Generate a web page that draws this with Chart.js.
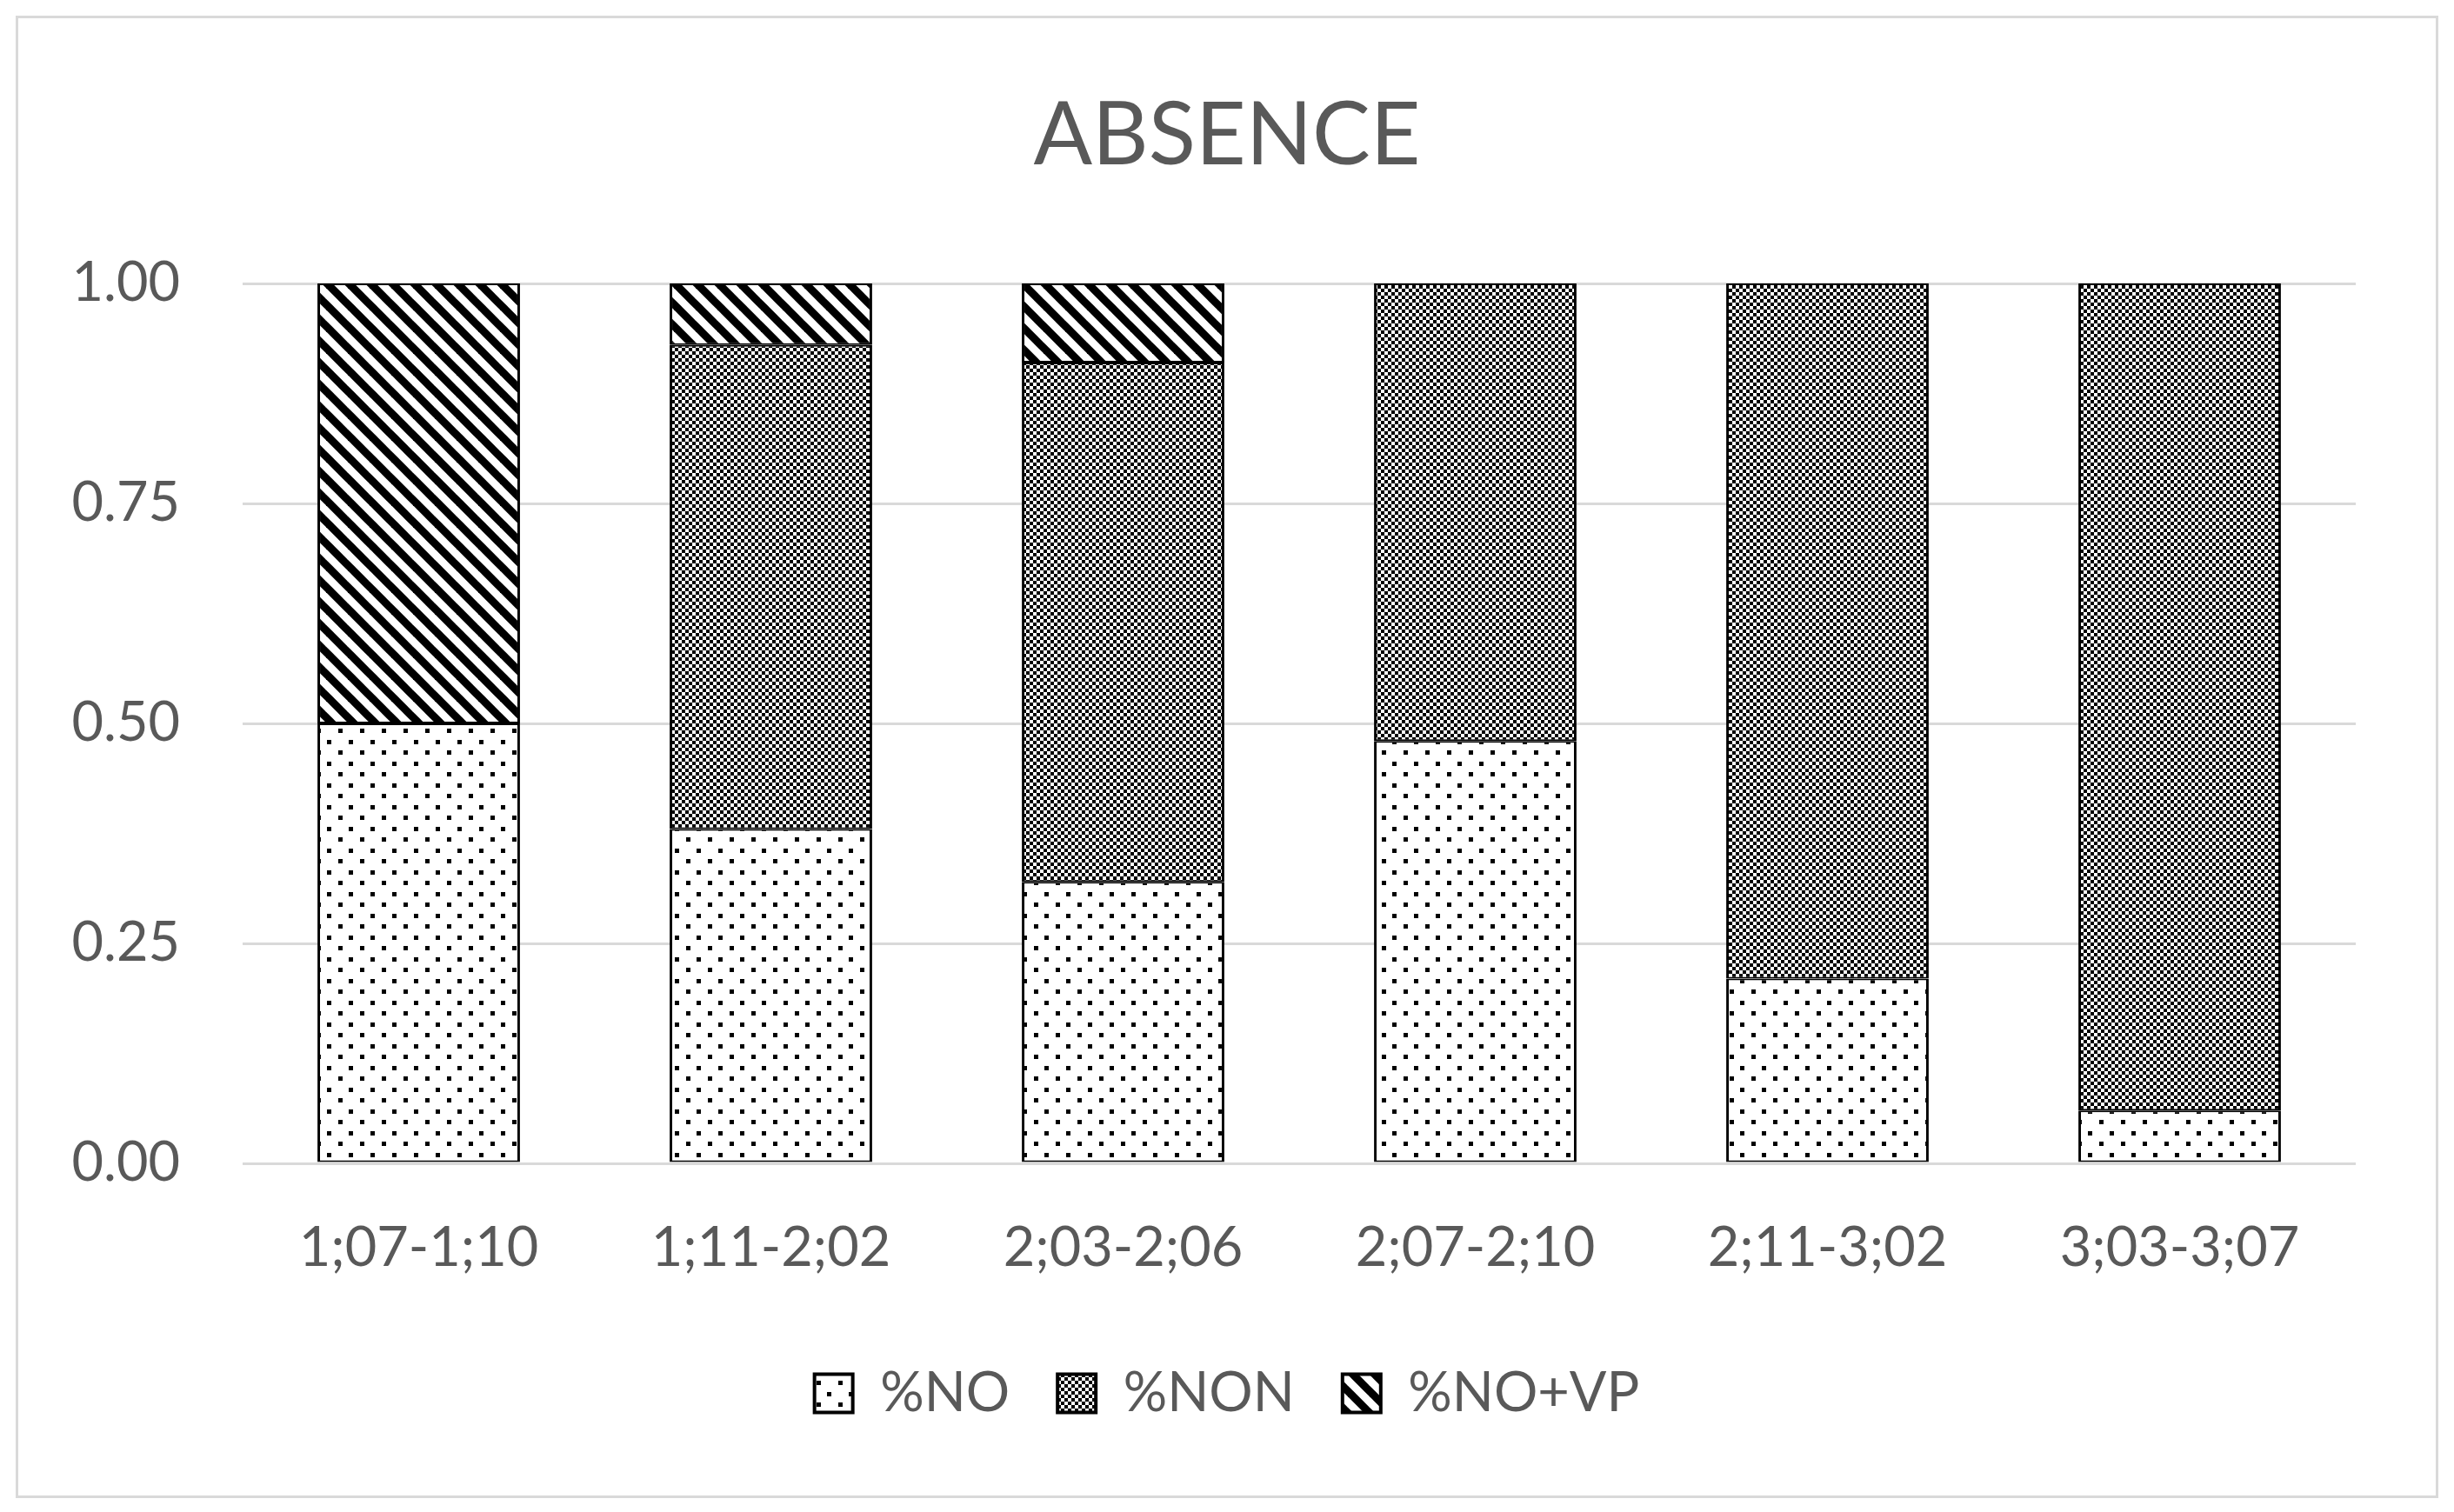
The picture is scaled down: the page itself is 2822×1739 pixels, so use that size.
<!DOCTYPE html>
<html>
<head>
<meta charset="utf-8">
<title>ABSENCE</title>
<script src="https://cdn.jsdelivr.net/npm/chart.js@4.4.0/dist/chart.umd.min.js"></script>
<style>
  html, body { margin: 0; padding: 0; background: #fff; }
  #wrap { width: 2822px; height: 1739px; }
</style>
</head>
<body>
<div id="wrap"><canvas id="grafico" width="2822" height="1739"></canvas></div>
<script>
// datos
const categorias = ['1;07-1;10', '1;11-2;02', '2;03-2;06', '2;07-2;10', '2;11-3;02', '3;03-3;07'];
const valoresNO = [0.50, 0.38, 0.32, 0.48, 0.21, 0.06];
const valoresNON = [0.00, 0.55, 0.59, 0.52, 0.79, 0.94];
const valoresNOVP = [0.50, 0.07, 0.09, 0.00, 0.00, 0.00];
const etiquetasSeries = ['%NO', '%NON', '%NO+VP'];

const colorTexto = '#595959';
const colorGrilla = '#d9d9d9';
const fuente = 'Lato, "Open Sans", sans-serif';

// patrones de relleno tipo Excel
const crearPatron = (tam, dibujar) => {
    const c = document.createElement('canvas');
    c.width = tam; c.height = tam;
    const g = c.getContext('2d');
    g.fillStyle = '#fff';
    g.fillRect(0, 0, tam, tam);
    g.fillStyle = '#000';
    g.strokeStyle = '#000';
    dibujar(g);
    return document.getElementById('grafico').getContext('2d').createPattern(c, 'repeat');
};

const patronPuntos = crearPatron(25, g => {
    g.fillRect(1, 1, 5, 5);
    g.fillRect(14, 13, 5, 5);
});

const patronDamero = crearPatron(8, g => {
    g.fillRect(0, 0, 4, 4);
    g.fillRect(4, 4, 4, 4);
});

const patronRayas = crearPatron(25, g => {
    g.lineWidth = 9;
    [-25, 0, 25].forEach(dx => {
        g.beginPath();
        g.moveTo(dx - 5, -5);
        g.lineTo(dx + 30, 30);
        g.stroke();
    });
});

const bordeBarra = { left: 3, right: 3, top: 2, bottom: 2 };

const marco = {
    id: 'marco',
    beforeDraw(chart) {
        const c = chart.ctx;
        c.save();
        c.fillStyle = '#fff';
        c.fillRect(0, 0, chart.width, chart.height);
        c.strokeStyle = colorGrilla;
        c.lineWidth = 3;
        c.strokeRect(19.5, 19.5, 2783, 1702);
        c.restore();
    }
};

new Chart(document.getElementById('grafico'), {
    type: 'bar',
    data: {
        labels: categorias,
        datasets: [
            { label: etiquetasSeries[0], data: valoresNO, backgroundColor: patronPuntos, borderColor: '#000', borderWidth: bordeBarra, borderSkipped: false },
            { label: etiquetasSeries[1], data: valoresNON, backgroundColor: patronDamero, borderColor: '#000', borderWidth: bordeBarra, borderSkipped: false },
            { label: etiquetasSeries[2], data: valoresNOVP, backgroundColor: patronRayas, borderColor: '#000', borderWidth: bordeBarra, borderSkipped: false }
        ]
    },
    options: {
        responsive: false,
        animation: false,
        devicePixelRatio: 1,
        barPercentage: 0.575,
        categoryPercentage: 1,
        layout: { padding: { top: 0, left: 0, right: 0, bottom: 95 } },
        scales: {
            x: {
                stacked: true,
                grid: { display: false, drawTicks: false },
                border: { display: false },
                ticks: { color: colorTexto, font: { family: fuente, size: 63 }, padding: 60, maxRotation: 0 },
                afterFit: (s) => { s.height = 178; }
            },
            y: {
                stacked: true,
                min: 0,
                max: 1,
                grid: { color: colorGrilla, lineWidth: 3, drawTicks: false },
                border: { display: false },
                ticks: {
                    stepSize: 0.25,
                    color: colorTexto,
                    font: { family: fuente, size: 63 },
                    padding: 72,
                    callback: (v) => Number(v).toFixed(2)
                },
                afterFit: (s) => { s.width = 279; }
            },
            // eje vacio a la derecha solo para reservar el margen
            margenDerecho: {
                type: 'linear',
                position: 'right',
                grid: { display: false, drawTicks: false },
                border: { display: false },
                ticks: { display: false },
                afterFit: (s) => { s.width = 113; }
            }
        },
        plugins: {
            title: {
                display: true,
                text: 'ABSENCE',
                color: colorTexto,
                font: { family: fuente, size: 100, weight: 'normal' },
                padding: { top: 97, bottom: 109 }
            },
            legend: {
                position: 'bottom',
                labels: {
                    color: colorTexto,
                    font: { family: fuente, size: 63 },
                    boxWidth: 44,
                    boxHeight: 44,
                    padding: 55,
                    generateLabels: (chart) => chart.data.datasets.map((ds, i) => ({
                        text: ds.label,
                        fillStyle: ds.backgroundColor,
                        strokeStyle: '#000',
                        lineWidth: 4,
                        fontColor: colorTexto,
                        datasetIndex: i,
                        hidden: false
                    }))
                }
            },
            tooltip: { enabled: false }
        }
    },
    plugins: [marco]
});
</script>
</body>
</html>
